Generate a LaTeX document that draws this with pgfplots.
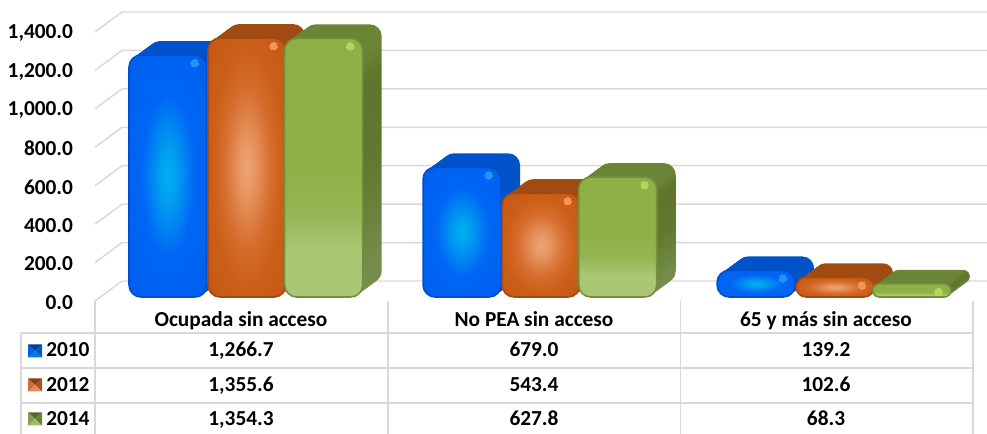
\documentclass[border=0pt]{standalone}
\usepackage{pgfplots}
\pgfplotsset{compat=1.18}
\usepackage{fontspec}
\setmainfont{Carlito}
\definecolor{gridc}{RGB}{217,217,217}
\pgfdeclareradialshading{blueglow}{\pgfpoint{0bp}{0bp}}{rgb(0bp)=(0,0.69,0.94); rgb(5bp)=(0,0.63,0.94); rgb(17bp)=(0,0.40,0.96); rgb(30bp)=(0,0.38,0.94); rgb(50bp)=(0,0.34,0.85)}
\pgfdeclareradialshading{orangeglow}{\pgfpoint{0bp}{0bp}}{rgb(0bp)=(0.92,0.65,0.45); rgb(5bp)=(0.91,0.59,0.39); rgb(15bp)=(0.84,0.43,0.18); rgb(23bp)=(0.80,0.37,0.09); rgb(50bp)=(0.73,0.31,0.08)}
\pgfdeclareverticalshading{greenshade}{100bp}{rgb(0bp)=(0.67,0.78,0.46); rgb(34bp)=(0.67,0.78,0.45); rgb(41bp)=(0.59,0.71,0.33); rgb(50bp)=(0.56,0.69,0.28); rgb(100bp)=(0.56,0.69,0.28)}
\pgfdeclareverticalshading{greenside}{100bp}{rgb(0bp)=(0.47,0.56,0.31); rgb(30bp)=(0.46,0.55,0.30); rgb(50bp)=(0.38,0.47,0.18); rgb(66bp)=(0.37,0.46,0.17); rgb(72bp)=(0.42,0.52,0.21); rgb(100bp)=(0.43,0.53,0.22)}
\definecolor{bluedepth}{RGB}{0,82,200}
\definecolor{orangedepth}{RGB}{160,75,15}
\definecolor{bluerim}{RGB}{0,78,205}
\definecolor{orangerim}{RGB}{165,72,18}
\definecolor{greenrim}{RGB}{115,145,60}
\definecolor{bluehi}{RGB}{30,150,245}
\definecolor{orangehi}{RGB}{240,150,90}
\definecolor{greenhi}{RGB}{175,215,90}
\definecolor{kba}{RGB}{0,60,150}\definecolor{kbb}{RGB}{0,90,200}\definecolor{kbc}{RGB}{0,120,240}\definecolor{kbd}{RGB}{0,100,220}
\definecolor{koa}{RGB}{130,65,20}\definecolor{kob}{RGB}{165,85,35}\definecolor{koc}{RGB}{230,140,90}\definecolor{kod}{RGB}{200,110,60}
\definecolor{kga}{RGB}{85,105,45}\definecolor{kgb}{RGB}{105,130,60}\definecolor{kgc}{RGB}{160,190,100}\definecolor{kgd}{RGB}{130,160,80}
% x, value, bar shift, corner, depth style, shading, rim, highlight
\newcommand{\threedbar}[8]{%
  \pgfplotsinvokeforeach{14,13,...,1}{%
    \addplot[forget plot, ybar, bar width=58.5pt, bar shift=#3, rounded corners=#4, #5, draw=none,
      xshift=##1*1.02pt, yshift=##1*0.75pt] coordinates {(#1,#2)};
  }
  \addplot[forget plot, ybar, bar width=58.5pt, bar shift=#3, rounded corners=#4, shade, shading=#6, draw=#7, line width=1.2pt] coordinates {(#1,#2)};
  \addplot[forget plot, only marks, mark=*, mark size=2.8pt, mark options={draw=#8, fill=#8, line width=0pt},
      xshift=#3+20pt, yshift=-6pt] coordinates {(#1,#2)};
}
\begin{document}
\begin{tikzpicture}
\path[use as bounding box] (0,0) rectangle (740.25pt,325.5pt);
\fontsize{16}{19}\selectfont\bfseries
% wall axis and tick labels
\begin{axis}[
  at={(71.25pt,99.75pt)}, anchor=south west, scale only axis,
  width=658.5pt, height=201.75pt,
  xmin=95, xmax=973, ymin=0, ymax=1400, clip=false,
  axis line style={draw=none}, xtick=\empty,
  ytick={0,200,...,1400}, major tick length=0pt,
  axis y line*=left,
  y tick label style={font=\fontsize{16}{19}\selectfont\bfseries, xshift=-11pt, yshift=-1pt,
    /pgf/number format/.cd, fixed, fixed zerofill, precision=1, 1000 sep={,}, assume math mode=true},
]
\pgfplotsinvokeforeach{0,200,...,1400}{
  \draw[gridc, line width=1.1pt] (axis cs:95,#1) -- ++(20.25pt,15pt) -- ++(648.75pt,0pt);
}
\end{axis}
% data table
\begin{scope}[x=0.75pt,y=-0.75pt,yshift=325.5pt]
  \draw[gridc, line width=1.1pt] (21,333) -- (973,333) (21,368) -- (973,368) (21,403) -- (973,403);
  \draw[gridc, line width=1.1pt] (21,333) -- (21,434) (95,301) -- (95,434) (388,301) -- (388,434) (680.5,301) -- (680.5,434) (973,301) -- (973,434);
  \node[anchor=base] at (241,326.5) {Ocupada sin acceso};
  \node[anchor=base] at (534,326.5) {No PEA sin acceso};
  \node[anchor=base] at (826,326.5) {65 y más sin acceso};
  \foreach \y/\a/\b/\c/\yr in {357/{1,266.7}/679.0/139.2/2010, 391.5/{1,355.6}/543.4/102.6/2012, 426/{1,354.3}/627.8/68.3/2014}{
    \node[anchor=base] at (241,\y) {\a};
    \node[anchor=base] at (534,\y) {\b};
    \node[anchor=base] at (826,\y) {\c};
    \node[anchor=base west, inner sep=0pt] at (46,\y) {\yr};
  }
  \foreach \y/\ca/\cb/\cc/\cd in {351/kba/kbb/kbc/kbd, 385/koa/kob/koc/kod, 419/kga/kgb/kgc/kgd}{
    \fill[\ca] (28,\y-6.5) -- (42,\y-6.5) -- (35,\y) -- cycle;
    \fill[\cb] (42,\y-6.5) -- (42,\y+6.5) -- (35,\y) -- cycle;
    \fill[\cc] (28,\y+6.5) -- (42,\y+6.5) -- (35,\y) -- cycle;
    \fill[\cd] (28,\y-6.5) -- (28,\y+6.5) -- (35,\y) -- cycle;
  }
\end{scope}
% bars
\begin{axis}[
  at={(71.25pt,102.75pt)}, anchor=south west, scale only axis,
  width=658.5pt, height=200.55pt,
  xmin=-0.517, xmax=2.469, ymin=0, ymax=1400, clip=false,
  axis lines=none,
]
\threedbar{0}{1266.7}{-59.25pt}{9pt}{fill=bluedepth}{blueglow}{bluerim}{bluehi}
\threedbar{0}{1355.6}{0pt}{9pt}{fill=orangedepth}{orangeglow}{orangerim}{orangehi}
\threedbar{0}{1354.3}{57.5pt}{9pt}{shade,shading=greenside}{greenshade}{greenrim}{greenhi}
\threedbar{1}{679.0}{-59.25pt}{9pt}{fill=bluedepth}{blueglow}{bluerim}{bluehi}
\threedbar{1}{543.4}{0pt}{9pt}{fill=orangedepth}{orangeglow}{orangerim}{orangehi}
\threedbar{1}{627.8}{57.5pt}{9pt}{shade,shading=greenside}{greenshade}{greenrim}{greenhi}
\threedbar{2}{139.2}{-59.25pt}{9pt}{fill=bluedepth}{blueglow}{bluerim}{bluehi}
\threedbar{2}{102.6}{0pt}{7.5pt}{fill=orangedepth}{orangeglow}{orangerim}{orangehi}
\threedbar{2}{68.3}{57.5pt}{4.8pt}{shade,shading=greenside}{greenshade}{greenrim}{greenhi}
\end{axis}
\end{tikzpicture}
\end{document}
